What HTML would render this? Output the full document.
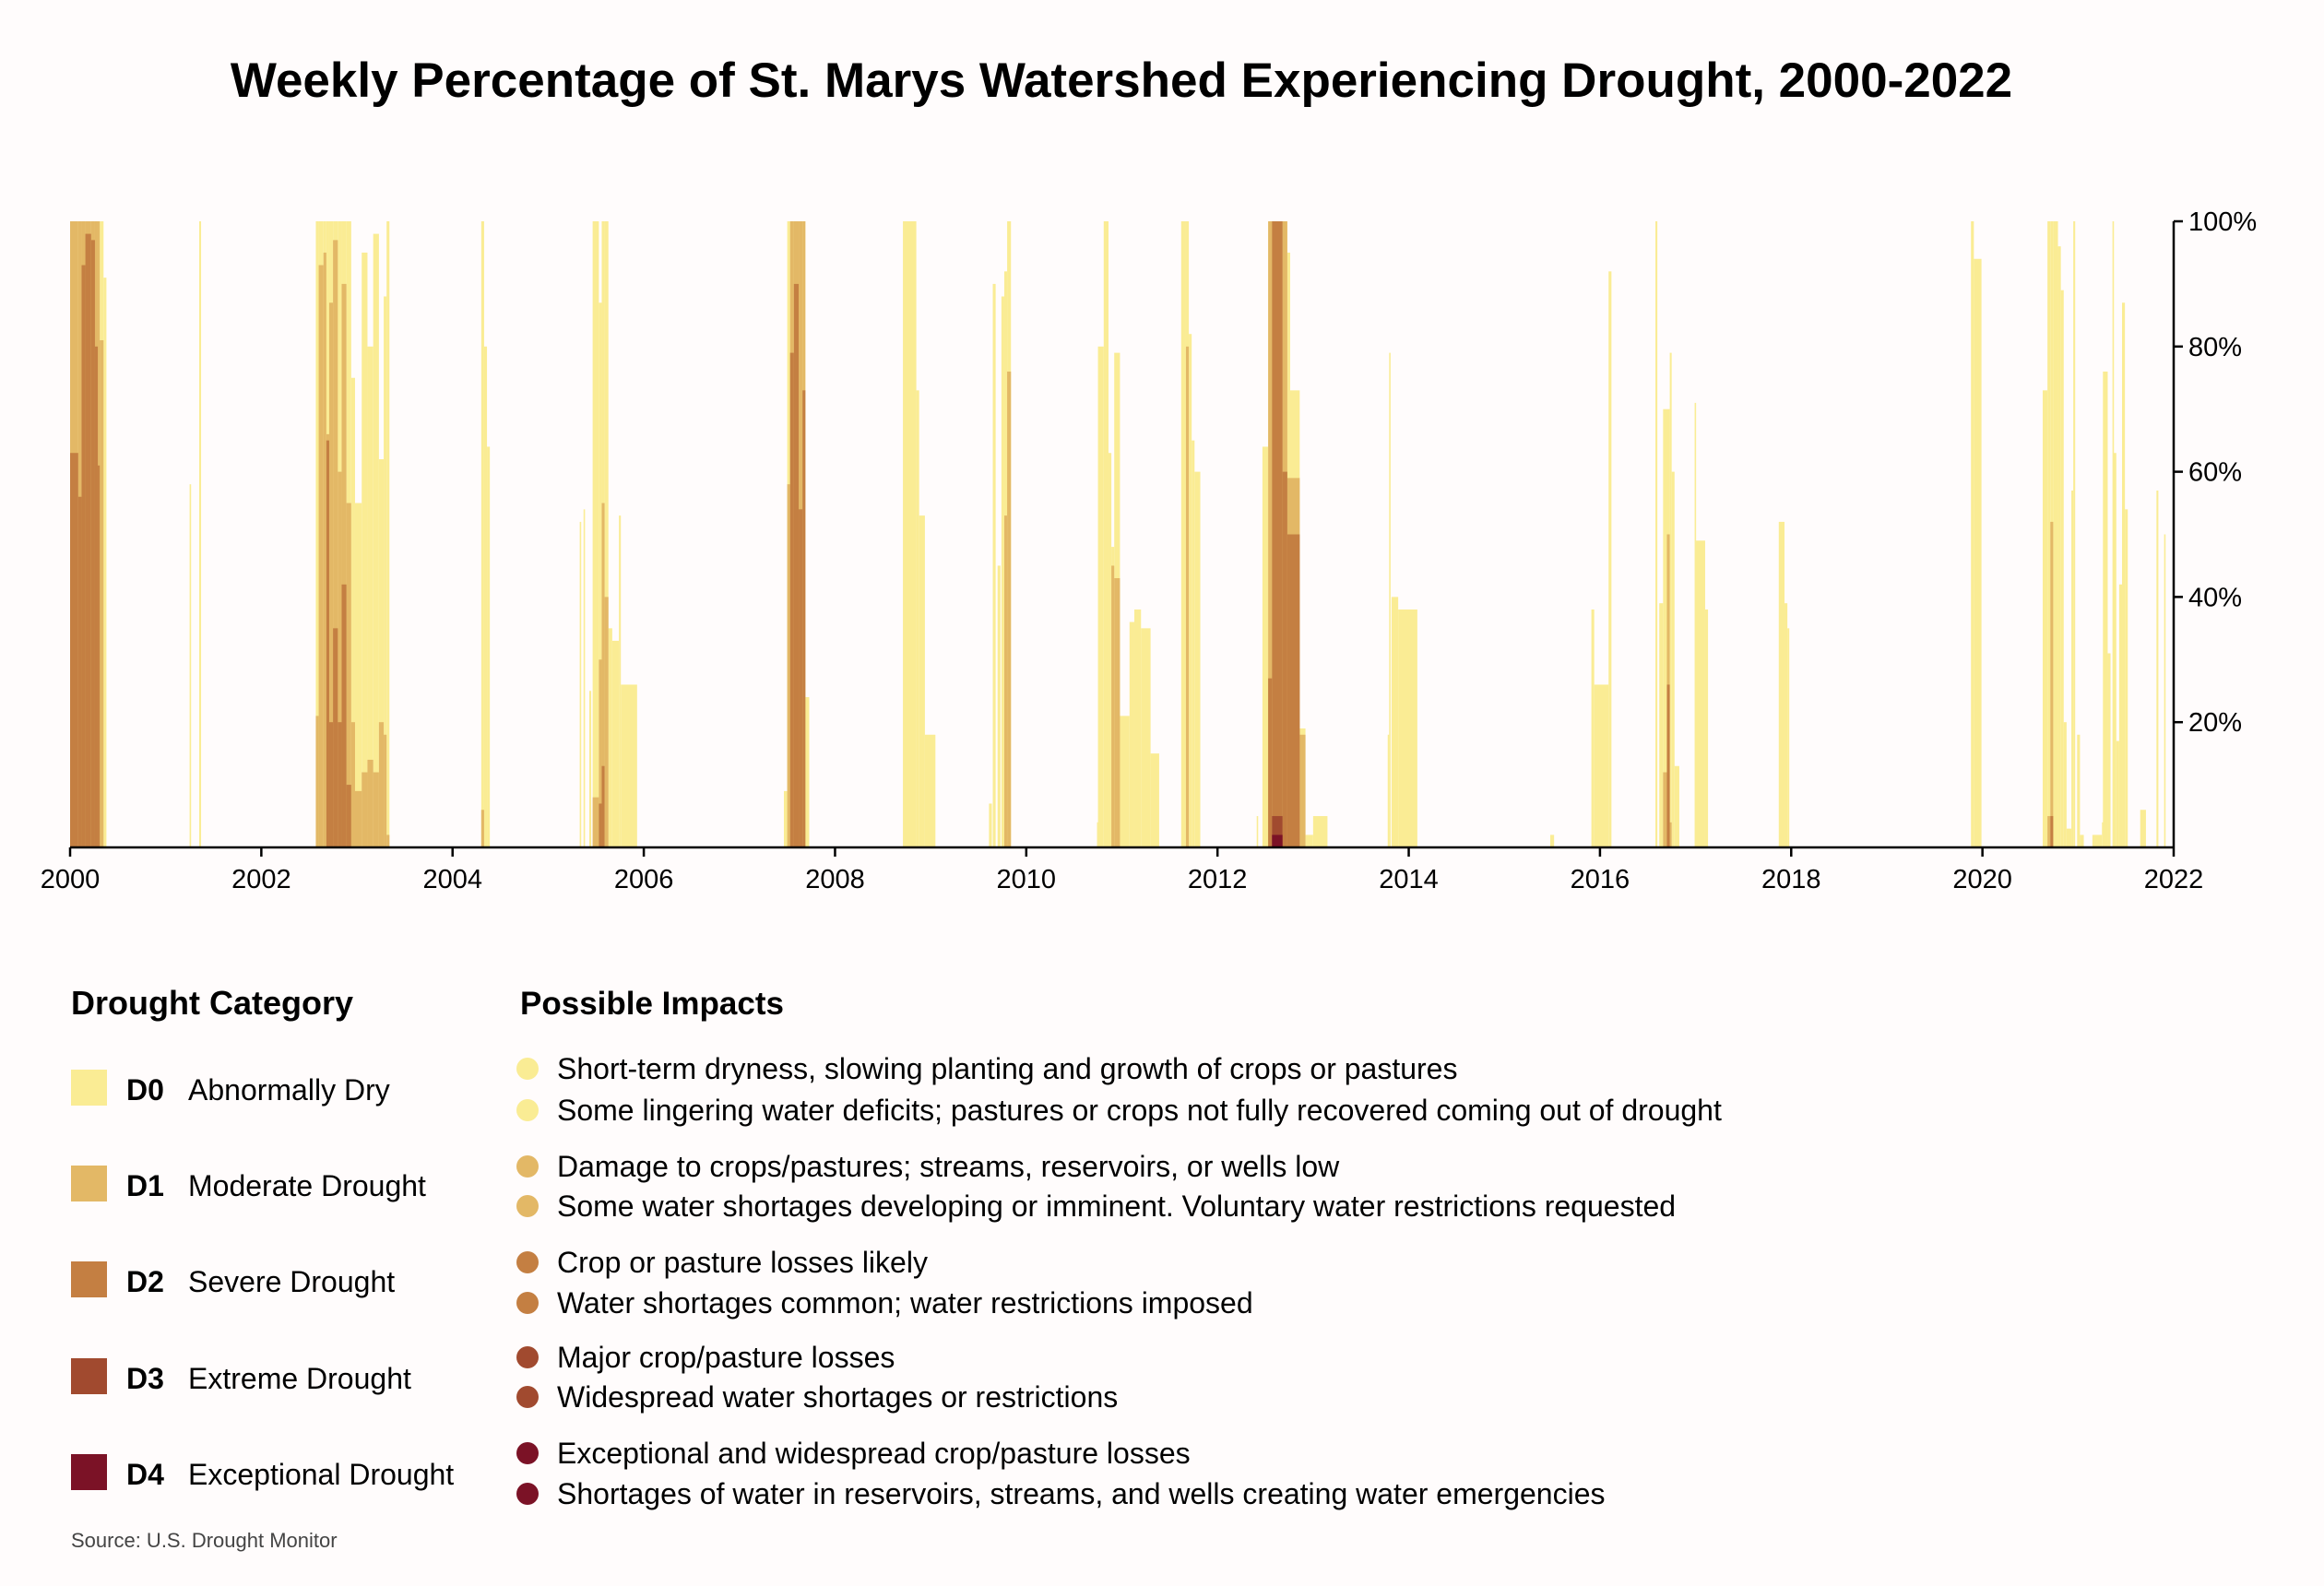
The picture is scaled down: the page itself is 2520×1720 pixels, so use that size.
<!DOCTYPE html>
<html><head><meta charset="utf-8">
<style>
html,body{margin:0;padding:0;background:#fffcfc;}
body{width:2520px;height:1720px;overflow:hidden;position:relative;font-family:"Liberation Sans",sans-serif;}
svg{position:absolute;left:0;top:0;}
</style></head>
<body>
<svg id="chart" width="2520" height="1720" viewBox="0 0 2520 1720">
<text x="1216" y="105" text-anchor="middle" font-size="53" font-weight="bold" fill="#000">Weekly Percentage of St. Marys Watershed Experiencing Drought, 2000-2022</text>
<g id="bars"></g>
<g id="axes"></g>
<g>
<text x="77" y="1100" font-size="36" font-weight="bold">Drought Category</text>
<rect x="77" y="1160" width="39" height="39" fill="#faec94"/>
<text x="137" y="1193" font-size="32" font-weight="bold">D0</text>
<text x="204" y="1193" font-size="32">Abnormally Dry</text>
<rect x="77" y="1264" width="39" height="39" fill="#e3b866"/>
<text x="137" y="1297" font-size="32" font-weight="bold">D1</text>
<text x="204" y="1297" font-size="32">Moderate Drought</text>
<rect x="77" y="1368" width="39" height="39" fill="#c47f42"/>
<text x="137" y="1401" font-size="32" font-weight="bold">D2</text>
<text x="204" y="1401" font-size="32">Severe Drought</text>
<rect x="77" y="1473" width="39" height="39" fill="#a14a2f"/>
<text x="137" y="1506" font-size="32" font-weight="bold">D3</text>
<text x="204" y="1506" font-size="32">Extreme Drought</text>
<rect x="77" y="1577" width="39" height="39" fill="#7b1226"/>
<text x="137" y="1610" font-size="32" font-weight="bold">D4</text>
<text x="204" y="1610" font-size="32">Exceptional Drought</text>
<text x="77" y="1678" font-size="22" fill="#444">Source: U.S. Drought Monitor</text>
</g>
<g font-size="32">
<text x="564" y="1100" font-size="35" font-weight="bold">Possible Impacts</text>
<circle cx="572" cy="1159" r="12" fill="#faec94"/>
<text x="604" y="1170">Short-term dryness, slowing planting and growth of crops or pastures</text>
<circle cx="572" cy="1204" r="12" fill="#faec94"/>
<text x="604" y="1215">Some lingering water deficits; pastures or crops not fully recovered coming out of drought</text>
<circle cx="572" cy="1265" r="12" fill="#e3b866"/>
<text x="604" y="1276">Damage to crops/pastures; streams, reservoirs, or wells low</text>
<circle cx="572" cy="1308" r="12" fill="#e3b866"/>
<text x="604" y="1319">Some water shortages developing or imminent. Voluntary water restrictions requested</text>
<circle cx="572" cy="1369" r="12" fill="#c47f42"/>
<text x="604" y="1380">Crop or pasture losses likely</text>
<circle cx="572" cy="1413" r="12" fill="#c47f42"/>
<text x="604" y="1424">Water shortages common; water restrictions imposed</text>
<circle cx="572" cy="1472" r="12" fill="#a14a2f"/>
<text x="604" y="1483">Major crop/pasture losses</text>
<circle cx="572" cy="1515" r="12" fill="#a14a2f"/>
<text x="604" y="1526">Widespread water shortages or restrictions</text>
<circle cx="572" cy="1576" r="12" fill="#7b1226"/>
<text x="604" y="1587">Exceptional and widespread crop/pasture losses</text>
<circle cx="572" cy="1620" r="12" fill="#7b1226"/>
<text x="604" y="1631">Shortages of water in reservoirs, streams, and wells creating water emergencies</text>
</g>
</svg>
<script>
// period start / end (decimal years) and cumulative % area in each category
const periodStart = [2000.00,2000.085,2000.12,2000.16,2000.22,2000.26,2000.29,2000.31,2000.35,2001.25,2001.35,
2002.57,2002.60,2002.65,2002.68,2002.71,2002.75,2002.80,2002.84,2002.89,2002.94,2002.98,2003.05,2003.11,2003.17,2003.23,2003.28,2003.31,
2004.30,2004.33,2004.36,
2005.33,2005.37,2005.43,2005.465,2005.53,2005.56,2005.59,2005.63,2005.67,2005.74,2005.76,
2007.465,2007.50,2007.53,2007.57,2007.62,2007.66,2007.69,
2008.71,2008.85,2008.88,2008.94,
2009.61,2009.65,2009.70,2009.74,2009.77,2009.80,
2010.74,2010.75,2010.81,2010.86,2010.89,2010.92,2010.98,2011.08,2011.13,2011.20,2011.30,
2011.62,2011.67,2011.70,2011.73,2011.76,
2012.41,2012.47,2012.53,2012.57,2012.68,2012.73,2012.76,2012.86,2012.92,2013.00,
2013.78,2013.795,2013.82,2013.89,
2015.48,
2015.91,2015.94,2016.09,
2016.58,2016.62,2016.66,2016.70,2016.73,2016.75,2016.78,2016.99,2017.00,2017.10,
2017.87,2017.93,2017.96,
2019.88,2019.91,
2020.63,2020.68,2020.71,2020.74,2020.79,2020.82,2020.85,2020.88,2020.93,2020.95,2020.99,2021.02,2021.15,2021.25,2021.26,2021.31,2021.36,2021.37,2021.40,2021.43,2021.46,2021.49,2021.65,2021.82,2021.90];
const periodEnd = [2000.085,2000.12,2000.16,2000.22,2000.26,2000.29,2000.31,2000.35,2000.38,2001.265,2001.37,
2002.60,2002.65,2002.68,2002.71,2002.75,2002.80,2002.84,2002.89,2002.94,2002.98,2003.05,2003.11,2003.17,2003.23,2003.28,2003.31,2003.34,
2004.33,2004.36,2004.39,
2005.345,2005.385,2005.45,2005.53,2005.56,2005.59,2005.63,2005.67,2005.74,2005.76,2005.93,
2007.50,2007.53,2007.57,2007.62,2007.66,2007.69,2007.73,
2008.85,2008.88,2008.94,2009.05,
2009.64,2009.68,2009.73,2009.77,2009.80,2009.84,
2010.75,2010.81,2010.86,2010.89,2010.92,2010.98,2011.08,2011.13,2011.20,2011.30,2011.39,
2011.67,2011.70,2011.73,2011.76,2011.82,
2012.425,2012.53,2012.57,2012.68,2012.73,2012.76,2012.86,2012.92,2013.00,2013.15,
2013.795,2013.81,2013.89,2014.09,
2015.52,
2015.94,2016.09,2016.12,
2016.60,2016.66,2016.70,2016.73,2016.75,2016.78,2016.83,2017.00,2017.10,2017.13,
2017.93,2017.96,2017.98,
2019.91,2019.99,
2020.68,2020.71,2020.74,2020.79,2020.82,2020.85,2020.88,2020.93,2020.95,2020.97,2021.02,2021.06,2021.25,2021.26,2021.31,2021.34,2021.37,2021.40,2021.43,2021.46,2021.49,2021.52,2021.71,2021.84,2021.915];
const d0 = [100,100,100,100,100,100,100,100,91,58,100,
100,100,100,100,100,100,100,100,100,75,55,95,80,98,62,88,100,
100,80,64,
52,54,25,100,87,100,100,35,33,53,26,
9,100,100,100,100,100,24,
100,73,53,18,
7,90,45,88,92,100,
4,80,100,63,48,79,21,36,38,35,15,
100,100,82,65,60,
5,64,100,100,100,95,73,19,2,5,
18,79,40,38,
2,
38,26,92,
100,39,70,70,79,60,13,71,49,38,
52,39,35,
100,94,
73,100,100,100,96,89,20,3,57,100,18,2,2,4,76,31,100,63,17,42,87,54,6,57,50];
const d1 = [100,100,100,100,100,100,100,81,0,0,0,
21,93,95,66,87,97,60,90,55,20,9,12,14,12,20,18,2,
6,0,0,
0,0,0,8,30,55,40,0,0,0,0,
0,58,100,100,100,100,0,
0,0,0,0,
0,0,0,0,53,76,
0,0,0,0,45,43,0,0,0,0,0,
0,80,0,0,0,
0,0,100,100,100,59,59,18,0,0,
0,0,0,0,
0,
0,0,0,
0,0,12,50,4,0,0,0,0,0,
0,0,0,
0,0,
0,5,52,0,0,0,0,0,0,0,0,0,0,0,0,0,0,0,0,0,0,0,0,0,0];
const d2 = [63,56,93,98,97,80,61,0,0,0,0,
0,0,0,65,20,35,20,42,10,0,0,0,0,0,0,0,0,
0,0,0,
0,0,0,0,7,13,0,0,0,0,0,
0,0,79,90,54,73,0,
0,0,0,0,
0,0,0,0,0,0,
0,0,0,0,0,0,0,0,0,0,0,
0,0,0,0,0,
0,0,27,100,60,50,50,0,0,0,
0,0,0,0,
0,
0,0,0,
0,0,0,26,0,0,0,0,0,0,
0,0,0,
0,0,
0,0,5,0,0,0,0,0,0,0,0,0,0,0,0,0,0,0,0,0,0,0,0,0,0];
const d3 = [0,0,0,0,0,0,0,0,0,0,0,
0,0,0,0,0,0,0,0,0,0,0,0,0,0,0,0,0,
0,0,0,
0,0,0,0,0,0,0,0,0,0,0,
0,0,0,0,0,0,0,
0,0,0,0,
0,0,0,0,0,0,
0,0,0,0,0,0,0,0,0,0,0,
0,0,0,0,0,
0,0,0,5,0,0,0,0,0,0,
0,0,0,0,
0,
0,0,0,
0,0,0,0,0,0,0,0,0,0,
0,0,0,
0,0,
0,0,0,0,0,0,0,0,0,0,0,0,0,0,0,0,0,0,0,0,0,0,0,0,0];
const d4 = [0,0,0,0,0,0,0,0,0,0,0,
0,0,0,0,0,0,0,0,0,0,0,0,0,0,0,0,0,
0,0,0,
0,0,0,0,0,0,0,0,0,0,0,
0,0,0,0,0,0,0,
0,0,0,0,
0,0,0,0,0,0,
0,0,0,0,0,0,0,0,0,0,0,
0,0,0,0,0,
0,0,0,2,0,0,0,0,0,0,
0,0,0,0,
0,
0,0,0,
0,0,0,0,0,0,0,0,0,0,
0,0,0,
0,0,
0,0,0,0,0,0,0,0,0,0,0,0,0,0,0,0,0,0,0,0,0,0,0,0,0];
const xTicks = [2000,2002,2004,2006,2008,2010,2012,2014,2016,2018,2020,2022];
const yTicks = [20,40,60,80,100];
const yTickLabels = ["20%","40%","60%","80%","100%"];

const X0=76, X1=2357, Y0=919, Y1=240;
function xs(v){return X0+(v-2000)/22*(X1-X0);}
function ys(v){return Y0-(v/100)*(Y0-Y1);}
const NS="http://www.w3.org/2000/svg";
const bars=document.getElementById('bars');
const axes=document.getElementById('axes');
const series=[d0,d1,d2,d3,d4];
const colors=["#faec94","#e3b866","#c47f42","#a14a2f","#7b1226"];
const catNames=["d0","d1","d2","d3","d4"];
for(let c=0;c<5;c++){
  const s=series[c];
  for(let i=0;i<periodStart.length;i++){
    if(!s[i]) continue;
    const r=document.createElementNS(NS,'rect');
    const xa=xs(periodStart[i]), xb=Math.max(xs(periodEnd[i]), xa+1.6);
    r.setAttribute('x',xa);r.setAttribute('width',xb-xa);
    r.setAttribute('y',ys(s[i]));r.setAttribute('height',Y0-ys(s[i]));
    r.setAttribute('fill',colors[c]);
    
    
    bars.appendChild(r);
  }
}
function line(x1,y1,x2,y2,name){
  const l=document.createElementNS(NS,'line');
  l.setAttribute('x1',x1);l.setAttribute('y1',y1);l.setAttribute('x2',x2);l.setAttribute('y2',y2);
  l.setAttribute('stroke','#000');l.setAttribute('stroke-width','2.5');
  
  
  axes.appendChild(l);
}
line(X0,Y0,X1,Y0,'x-axis-line');
line(X1,Y1,X1,Y0,'y-axis-line');
xTicks.forEach(t=>{
  line(xs(t),Y0,xs(t),Y0+10,'x-tick');
  const tx=document.createElementNS(NS,'text');
  tx.setAttribute('x',xs(t));tx.setAttribute('y',Y0+44);tx.setAttribute('text-anchor','middle');tx.setAttribute('font-size','29');
  tx.textContent=t;
  
  
  axes.appendChild(tx);
});
yTicks.forEach((t,i)=>{
  line(X1,ys(t),X1+10,ys(t),'y-tick');
  const tx=document.createElementNS(NS,'text');
  tx.setAttribute('x',X1+16);tx.setAttribute('y',ys(t)+10);tx.setAttribute('font-size','29');
  tx.textContent=yTickLabels[i];
  
  
  axes.appendChild(tx);
});
</script>
</body></html>
